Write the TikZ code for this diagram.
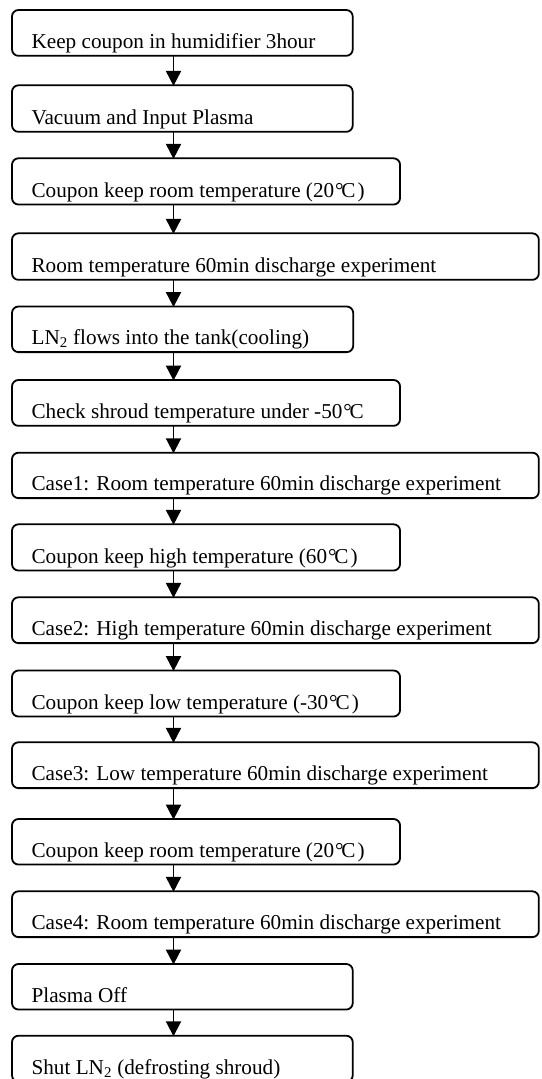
\documentclass[tikz,border=0pt]{standalone}
\usepackage{fontspec}
\setmainfont{Liberation Serif}
\usetikzlibrary{arrows.meta,calc}
\newcommand\dC{\kern0.04em°\kern-0.1em C\kern0.1em}
\newcommand\mkbox[5]{%
  \node[stepbox, minimum width={#4-12}, minimum height={#3-#2}, anchor=north west] (#1) at (12,#2) {};
  \node[lbl] (#1t) at ($(#1.south west)+(19.6,-7.4)$) {#5};
}
\begin{document}
\begin{tikzpicture}[x=1bp,y=-1bp,
  stepbox/.style={draw=black, line width=1.8bp, rounded corners=6.5bp, rectangle, inner sep=0pt, outer sep=0pt},
  lbl/.style={anchor=base west, inner sep=0pt, outer sep=0pt, font=\fontsize{21.2bp}{25bp}\selectfont},
  arr/.style={line width=1.9bp, -{Triangle[width=15bp,length=15bp]}, shorten >=-0.6bp}]
\useasboundingbox (0,0) rectangle (542,1079);
\clip (0,0) rectangle (542,1079);
\coordinate (ax) at (173.5,0);
\mkbox{b1}{10}{56}{354}{Keep coupon in humidifier 3hour}
\mkbox{b2}{85.3}{132}{354}{Vacuum and Input Plasma}
\mkbox{b3}{158.3}{204.7}{401.5}{Coupon keep room temperature (20\dC)}
\mkbox{b4}{233.3}{280}{540.8}{Room temperature 60min discharge experiment}
\mkbox{b5}{306.5}{352.3}{354.5}{LN\textsubscript{2} flows into the tank(cooling)}
\mkbox{b6}{380}{426}{401.5}{Check shroud temperature under -50\dC}
\mkbox{b7}{452.7}{498.3}{540.8}{Case1: Room temperature 60min discharge experiment}
\mkbox{b8}{524.3}{570.7}{401.5}{Coupon keep high temperature (60\dC)}
\mkbox{b9}{597.3}{643.3}{540.8}{Case2: High temperature 60min discharge experiment}
\mkbox{b10}{670.5}{716.7}{401.5}{Coupon keep low temperature (-30\dC)}
\mkbox{b11}{742.3}{788.3}{540.8}{Case3: Low temperature 60min discharge experiment}
\mkbox{b12}{819}{864.7}{401.5}{Coupon keep room temperature (20\dC)}
\mkbox{b13}{891.3}{937.3}{540.8}{Case4: Room temperature 60min discharge experiment}
\mkbox{b14}{964}{1009.7}{354}{Plasma Off}
\mkbox{b15}{1035.7}{1082}{354}{Shut LN\textsubscript{2} (defrosting shroud)}
\foreach \a/\b in {b1/b2,b2/b3,b3/b4,b4/b5,b5/b6,b6/b7,b7/b8,b8/b9,b9/b10,b10/b11,b11/b12,b12/b13,b13/b14,b14/b15}{
  \draw[arr] (\a.south -| ax) -- (\b.north -| ax);
}
\end{tikzpicture}
\end{document}
